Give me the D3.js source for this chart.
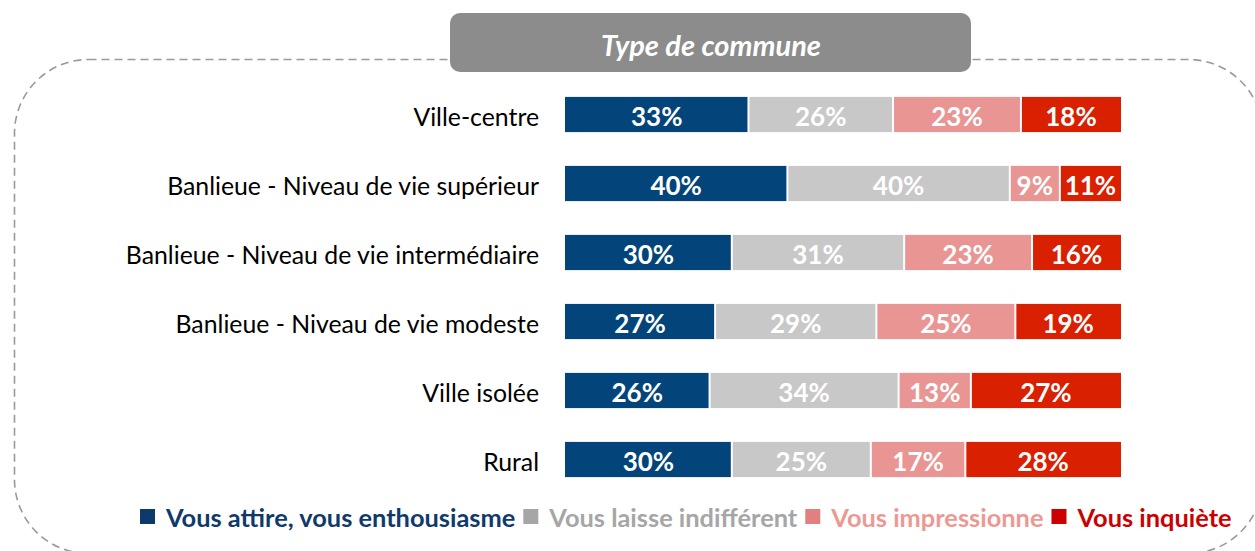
<!DOCTYPE html>
<html><head><meta charset="utf-8">
<script src="https://cdn.jsdelivr.net/npm/d3@7"></script>
<style>
html,body{margin:0;padding:0;background:#fff;}
svg{display:block;font-family:Lato,"Open Sans",sans-serif;}
</style></head>
<body>
<svg id="chart" width="1255" height="551"></svg>
<script>
const title = "Type de commune";
const categories = ["Ville-centre","Banlieue - Niveau de vie supérieur","Banlieue - Niveau de vie intermédiaire","Banlieue - Niveau de vie modeste","Ville isolée","Rural"];
const seriesNames = ["Vous attire, vous enthousiasme","Vous laisse indifférent","Vous impressionne","Vous inquiète"];
const attire = [33,40,30,27,26,30];
const indifferent = [26,40,31,29,34,25];
const impressionne = [23,9,23,25,13,17];
const inquiete = [18,11,16,19,27,28];
const barColors = ["#03457a","#c8c8c8","#e89593","#d92000"];
const legendSquare = ["#0e3a6b","#a6a6a6","#e08080","#cc0000"];
const legendText = ["#103a6b","#a6a6a6","#ec9994","#cc0000"];

const svg = d3.select("#chart");
const values = [attire, indifferent, impressionne, inquiete];

// dashed frame
svg.append("rect").attr("x",14.5).attr("y",59.5).attr("width",1248).attr("height",494)
  .attr("rx",74).attr("ry",74).attr("fill","none").attr("stroke","#9a9a9a")
  .attr("stroke-width",1.6).attr("stroke-dasharray","8,5");

// title box
svg.append("rect").attr("x",450).attr("y",13).attr("width",521).attr("height",59)
  .attr("rx",10).attr("fill","#8c8c8c");
svg.append("text").attr("x",711).attr("y",44).attr("text-anchor","middle")
  .attr("dominant-baseline","central").attr("fill","#fff")
  .attr("font-size",29).attr("font-weight","bold").attr("font-style","italic").text(title);

const x = d3.scaleLinear().domain([0,100]).range([565,1121]);
const y = d3.scaleBand().domain(categories).range([80,494]).paddingInner(0.49).paddingOuter(0.245);

const stacked = categories.map((c,i)=>{
  let acc=0;
  return values.map((s,k)=>{const d={cat:c,k,v:s[i],x0:acc,x1:acc+s[i]};acc+=s[i];return d;});
});

const rows = svg.append("g").selectAll("g").data(stacked).join("g");
rows.selectAll("rect").data(d=>d).join("rect")
  .attr("x",d=>x(d.x0)+(d.x0>0?1:0))
  .attr("width",d=>x(d.x1)-x(d.x0)-(d.x0>0?1:0)-(d.x1<100?1:0))
  .attr("y",d=>y(d.cat)).attr("height",y.bandwidth())
  .attr("fill",d=>barColors[d.k]);
rows.selectAll("text").data(d=>d).join("text")
  .attr("x",d=>(x(d.x0)+x(d.x1))/2).attr("y",d=>y(d.cat)+y.bandwidth()/2+1)
  .attr("text-anchor","middle").attr("dominant-baseline","central")
  .attr("fill","#fff").attr("font-weight","bold").attr("font-size",26)
  .text(d=>d.v+"%");

// category labels
svg.append("g").selectAll("text").data(categories).join("text")
  .attr("x",539).attr("y",d=>y(d)+y.bandwidth()/2+2)
  .attr("text-anchor","end").attr("dominant-baseline","central")
  .attr("fill","#000").attr("font-size",24.8).text(d=>d);

// legend, laid out sequentially
const lg = svg.append("g");
let lx = 140;
seriesNames.forEach((n,k)=>{
  lg.append("rect").attr("x",lx).attr("y",509).attr("width",15).attr("height",15).attr("fill",legendSquare[k]);
  const t = lg.append("text").attr("x",lx+26).attr("y",517).attr("dominant-baseline","central")
    .attr("fill",legendText[k]).attr("font-weight","bold").attr("font-size",25.4).text(n);
  lx += 26 + t.node().getComputedTextLength() + 8;
});
</script>
</body></html>
